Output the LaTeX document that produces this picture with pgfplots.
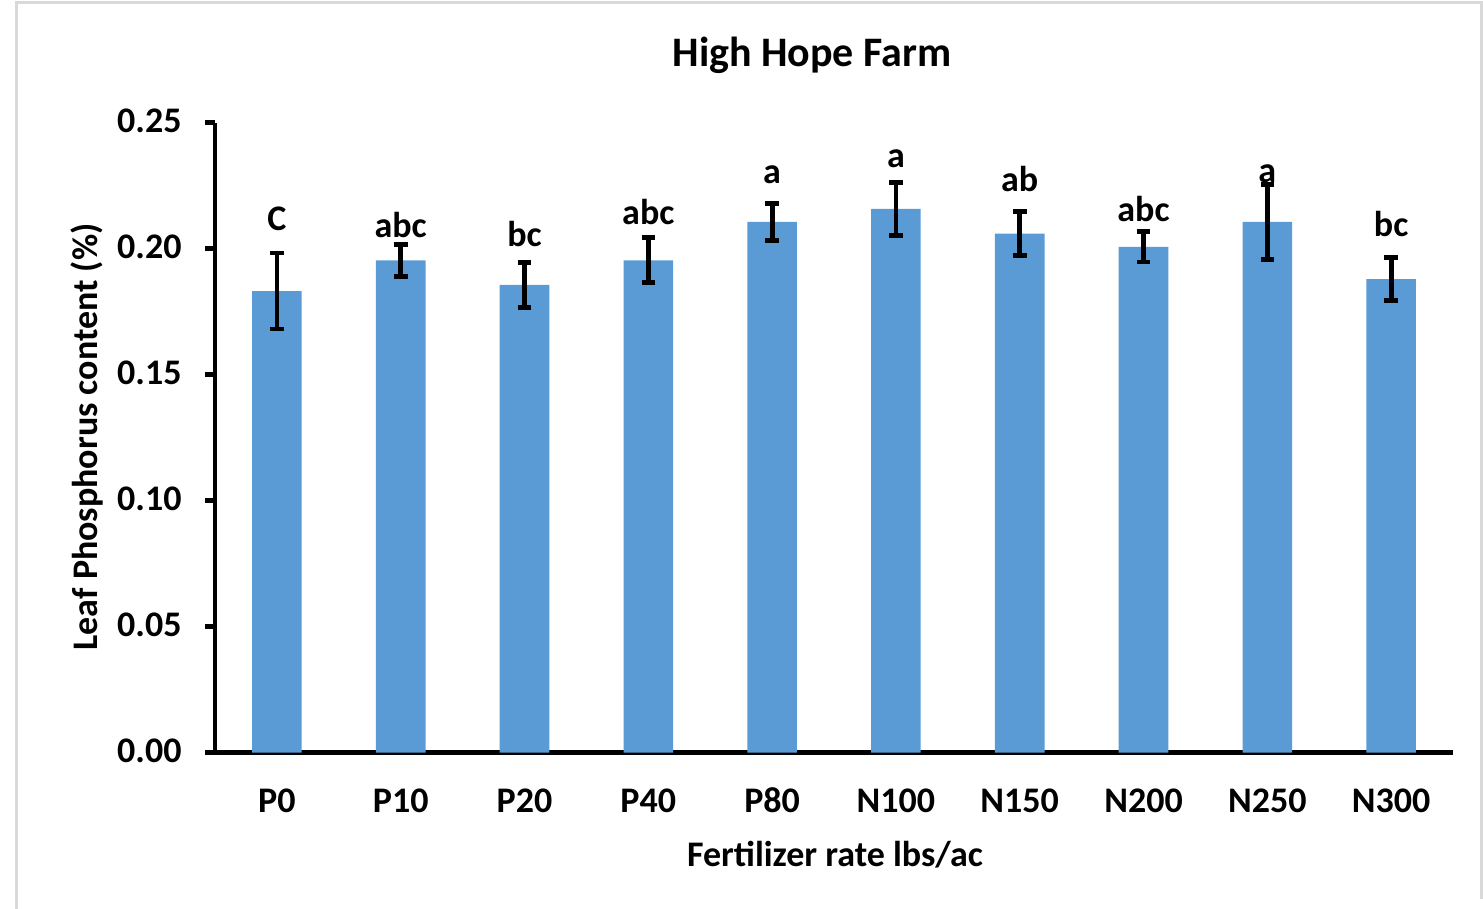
\documentclass[border=0pt]{standalone}
\usepackage{fontspec}
\setmainfont{Carlito}
\usepackage{pgfplots}
\pgfplotsset{compat=1.18}
\definecolor{barblue}{HTML}{5B9BD5}
\definecolor{framegray}{HTML}{D9D9D9}
\newcommand{\tfont}{\bfseries\fontsize{18}{21}\selectfont}
\begin{document}
\begin{tikzpicture}
\useasboundingbox (-107.5pt,-78.15pt) rectangle (634pt,376.35pt);
\draw[framegray, line width=1.5pt] (-99pt,-80pt) -- (-99pt,374.85pt) -- (633pt,374.85pt) -- (633pt,-73pt);
\begin{axis}[
  at={(0pt,0pt)}, anchor=south west,
  scale only axis,
  width=619pt, height=315pt,
  xmin=-0.5, xmax=9.5,
  ymin=0, ymax=0.25,
  axis lines=left,
  axis line style={-, line width=2.2pt, black},
  xtick={0,1,2,3,4,5,6,7,8,9},
  xticklabels={P0,P10,P20,P40,P80,N100,N150,N200,N250,N300},
  x tick style={draw=none},
  ytick={0,0.05,0.1,0.15,0.2,0.25},
  y tick style={line width=2.2pt, black},
  tick align=outside,
  major tick length=5pt,
  /pgf/number format/assume math mode=true,
  yticklabel style={/pgf/number format/fixed, /pgf/number format/fixed zerofill, /pgf/number format/precision=2, font=\tfont, anchor=east, inner sep=0pt, xshift=-11.5pt, yshift=1pt},
  xticklabel style={font=\tfont, anchor=base, inner sep=0pt, yshift=-25pt},
  ybar, bar width=24.8pt,
]
\addplot[fill=barblue, draw=none,
  error bars/.cd, y dir=both, y explicit,
  error mark=-,
  error bar style={line width=2.4pt, black, draw=black},
  error mark options={rotate=90, line width=2.4pt, black, draw=black, mark size=3.4pt}]
coordinates {
 (0,0.1832) +- (0,0.0151)
 (1,0.1954) +- (0,0.0063)
 (2,0.1856) +- (0,0.0089)
 (3,0.1954) +- (0,0.0089)
 (4,0.2106) +- (0,0.0073)
 (5,0.2158) +- (0,0.0106)
 (6,0.2060) +- (0,0.0088)
 (7,0.2007) +- (0,0.0060)
 (8,0.2106) +- (0,0.0150)
 (9,0.1879) +- (0,0.0086)
};
\begin{scope}[every node/.style={font=\tfont, anchor=base, inner sep=0pt}]
\node at (axis cs:0,0.2074) {C};
\node at (axis cs:1,0.2046) {abc};
\node at (axis cs:2,0.2008) {bc};
\node at (axis cs:3,0.2097) {abc};
\node at (axis cs:4,0.2260) {a};
\node at (axis cs:5,0.2323) {a};
\node at (axis cs:6,0.2226) {ab};
\node at (axis cs:7,0.2107) {abc};
\node at (axis cs:8,0.2261) {a};
\node at (axis cs:9,0.2050) {bc};
\end{scope}
\end{axis}
\node[anchor=base, font=\bfseries\fontsize{21}{24}\selectfont] at (298.5pt,343pt) {High Hope Farm};
\node[anchor=base, rotate=90, inner sep=0pt, font=\bfseries\fontsize{18}{21}\selectfont] at (-58.5pt,157.9pt) {Leaf Phosphorus content (\%)};
\node[anchor=base, inner sep=0pt, font=\bfseries\fontsize{18}{21}\selectfont] at (310pt,-57pt) {Fertilizer rate lbs/ac};
\end{tikzpicture}
\end{document}
